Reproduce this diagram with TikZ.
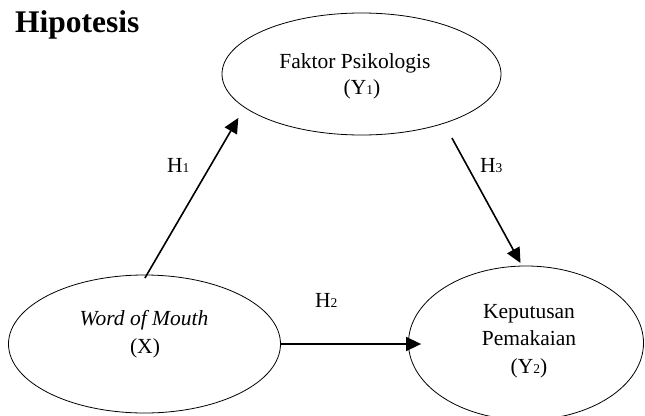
\documentclass[tikz,border=0pt]{standalone}
\usepackage{fontspec}
\setmainfont{Liberation Serif}
\usetikzlibrary{shapes.geometric,arrows.meta,calc}
\newcommand\smdigit[1]{{\fontsize{13.5}{13.5}\selectfont #1}}
\begin{document}
\begin{tikzpicture}[x=1pt,y=-1pt,
  ell/.style={ellipse, draw, line width=0.8pt, inner sep=0pt},
  txt/.style={font=\fontsize{21.5}{26}\selectfont, anchor=base, inner sep=0pt},
  arr/.style={line width=1.6pt, -{Triangle[length=15pt,width=14pt]}}]
\useasboundingbox (0,0) rectangle (645,415);
\fill[white] (0,0) rectangle (645,415);

% title
\node[font=\fontsize{31.5}{37}\selectfont\bfseries, anchor=base west, inner sep=0pt] (title) at (15,32.5) {Hipotesis};

% ellipses
\node[ell, minimum width=279pt, minimum height=122pt] (fp) at (361.5,74) {};
\node[ell, minimum width=272pt, minimum height=138pt] (wom) at (144.5,344) {};
\node[ell, minimum width=235pt, minimum height=154pt] (kp) at (526,343) {};

% texts
\node[txt] (fp1) at (355,68) {Faktor Psikologis};
\node[txt] (fp2) at (362,94) {(Y\smdigit{1})};
\node[txt] (wm1) at (144,325) {\textit{Word of Mouth}};
\node[txt] (wm2) at (145,353) {(X)};
\node[txt] (kp1) at (529,318) {Keputusan};
\node[txt] (kp2) at (529,345) {Pemakaian};
\node[txt] (kp3) at (529,373) {(Y\smdigit{2})};

% hypothesis labels
\node[txt, anchor=base west] (h1) at (167,172) {H\smdigit{1}};
\node[txt, anchor=base west] (h3) at (480,172) {H\smdigit{3}};
\node[txt, anchor=base west] (h2) at (315,307) {H\smdigit{2}};

% arrows
\draw[arr, shorten <=-4pt, shorten >=12pt] (wom.88) -- (fp.196);
\draw[arr, shorten <=16.5pt, shorten >=3pt] (fp.329) -- (kp.93);
\draw[arr, shorten >=-13pt] (wom.east) -- (kp.west |- wom.east);
\end{tikzpicture}
\end{document}
